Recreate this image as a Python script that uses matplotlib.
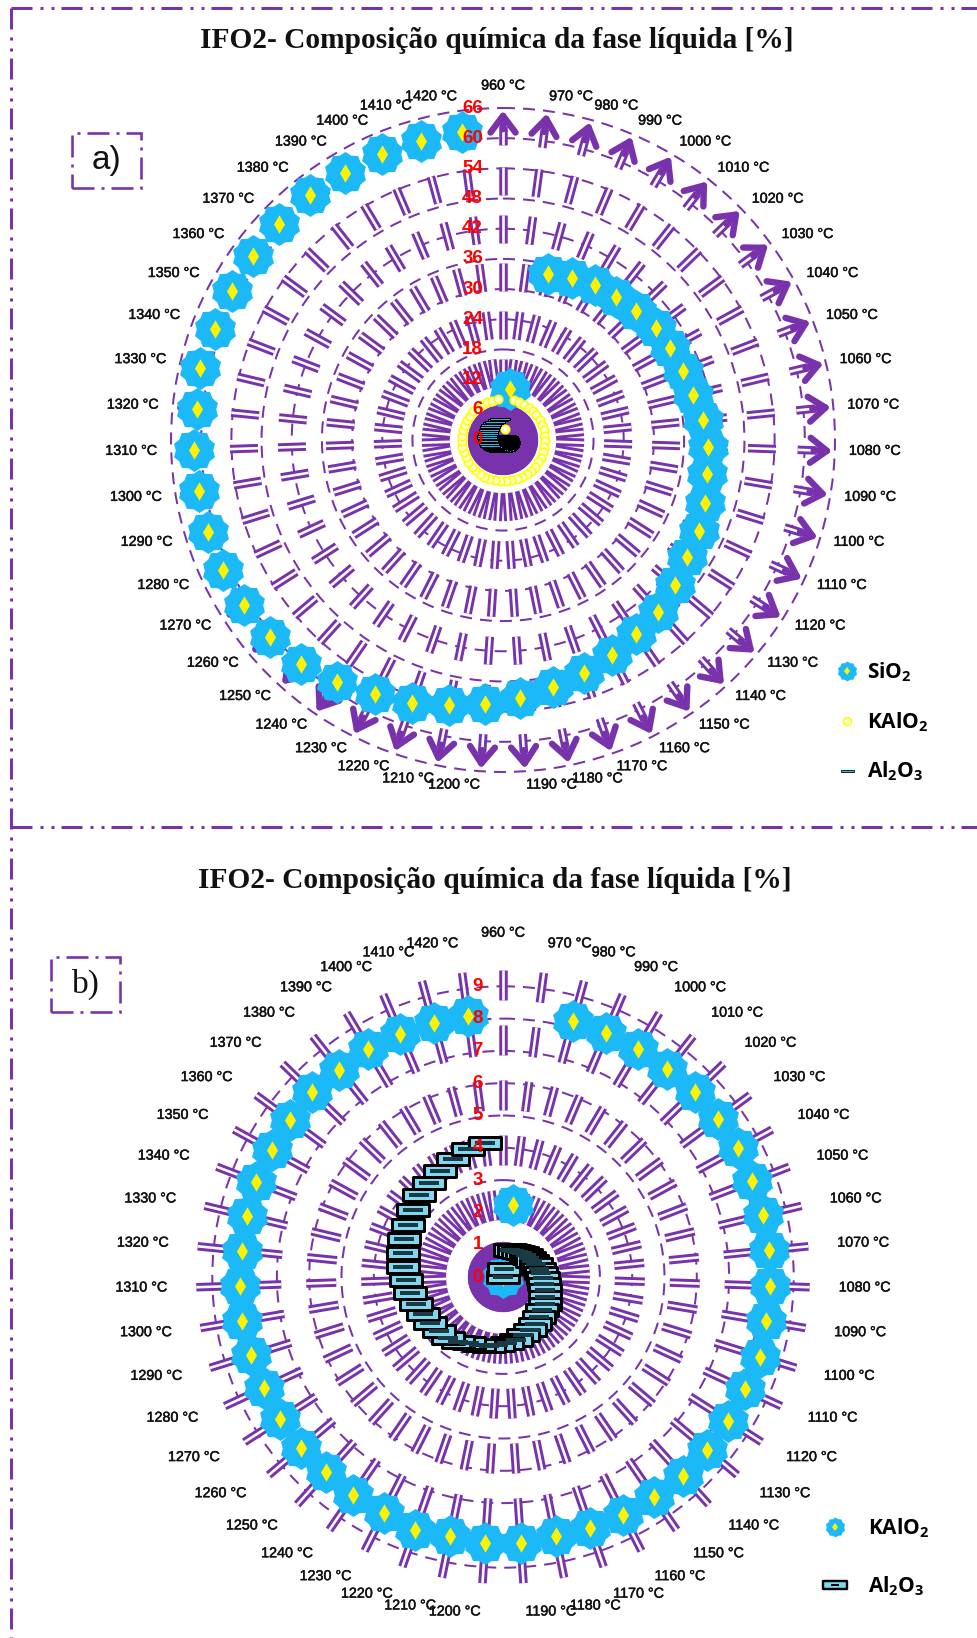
import matplotlib
matplotlib.use("Agg")
import matplotlib.patheffects as pe
import matplotlib.pyplot as plt
import numpy as np
from matplotlib.legend_handler import HandlerTuple
from matplotlib.lines import Line2D
from matplotlib.patches import Rectangle
from matplotlib.path import Path

plt.rcParams["lines.scale_dashes"] = False
plt.rcParams["font.family"] = ["Liberation Sans", "DejaVu Sans"]
plt.rcParams["mathtext.default"] = "regular"

W, H = 978, 1638
PX = 72 / 100  # points per pixel at dpi 100

temps = [f"{t} °C" for t in range(960, 1430, 10)]

# no SiO2 point shows at 960 °C in panel a
sio2 = [np.nan, 10.2, 34.2, 34.9, 35.8, 36.3, 36.9, 37.7, 37.9, 38.3, 38.8, 40.0, 40.8, 41.2, 42.0, 43.0,
        43.4, 44.7, 46.0, 46.8, 48.0, 49.0, 50.2, 51.5, 52.7, 53.7, 55.3, 56.6, 58.4, 60.0, 60.7,
        61.0, 61.3, 61.5, 61.3, 61.5, 61.2, 61.9, 61.3, 61.5, 61.7, 61.9, 62.0, 61.8, 61.7, 61.7, 61.8]

kalo2 = [0, 2.26, 8.22, 8.19, 8.19, 8.2, 8.26, 8.27, 8.28, 8.25, 8.28, 8.29, 8.26, 8.27, 8.32, 8.27,
         8.28, 8.29, 8.29, 8.26, 8.24, 8.24, 8.19, 8.24, 8.24, 8.19, 8.3, 8.2, 8.2, 8.16, 8.2,
         8.18, 8.15, 8.18, 8.18, 8.16, 8.13, 8.15, 8.18, 8.17, 8.19, 8.22, 8.18, 8.2, 8.16, 8.14, 8.16]

al2o3 = [0, 0.24, 0.87, 0.89, 0.91, 0.94, 0.97, 1.0, 1.04, 1.08, 1.13, 1.19, 1.25, 1.3, 1.37, 1.44,
         1.53, 1.6, 1.68, 1.76, 1.83, 1.91, 1.99, 2.05, 2.1, 2.17, 2.23, 2.3, 2.45, 2.54, 2.6,
         2.67, 2.74, 2.82, 2.92, 3.0, 3.1, 3.19, 3.29, 3.36, 3.48, 3.63, 3.72, 3.82, 3.97, 4.1, 4.2]

rings_a = [0, 6, 12, 18, 24, 30, 36, 42, 48, 54, 60, 66]
rings_b = [0, 1, 2, 3, 4, 5, 6, 7, 8, 9]

title = "IFO2- Composição química da fase líquida [%]"

PURPLE = "#7832AB"
BLUE = "#1BB9F7"
YELLOW = "#FFF200"
CYAN = "#7FD8EE"

FLOWER = Path.unit_regular_star(10, innerCircle=0.87)
THIN_BAR = Path([(-1, -0.13), (1, -0.13), (1, 0.13), (-1, 0.13), (-1, -0.13)], closed=True)
WIDE_BAR = Path([(-1, -0.36), (1, -0.36), (1, 0.36), (-1, 0.36), (-1, -0.36)], closed=True)
CORE_BAR = Path([(-1, -0.16), (1, -0.16), (1, 0.16), (-1, 0.16), (-1, -0.16)], closed=True)


def px(x, y):
    return x / W, 1 - y / H


def polar_axes(cx, cy, radius):
    ax = plt.gcf().add_axes([(cx - radius) / W, 1 - (cy + radius) / H, 2 * radius / W, 2 * radius / H],
                            projection="polar")
    ax.set_theta_zero_location("N")
    ax.set_theta_direction(-1)
    ax.set_facecolor("none")
    ax.spines["polar"].set_visible(False)
    return ax


def draw_grid(ax, theta, rings, rmax, scale, dash, outer, lab_r):
    ax.set_ylim(0, rmax)
    ax.set_yticks(rings)
    ax.set_yticklabels([])
    ax.set_xticks(theta)
    ax.set_xticklabels([])
    ax.tick_params(length=0)
    ax.xaxis.grid(False)
    ax.yaxis.grid(True, color=PURPLE, lw=2.0 * PX, linestyle=(0, (12 * PX, 8 * PX)), zorder=1)
    ax.set_axisbelow(True)

    on_off = (dash[0] * PX, dash[1] * PX)
    inner = 45 / scale
    disc = 35 / scale
    # two passes so a white core is never covered by the next spoke
    for t in theta:
        ax.plot([t, t], [0, disc], color=PURPLE, lw=9 * PX, solid_capstyle="butt", zorder=2)
        ax.plot([t, t], [outer, inner], color=PURPLE, lw=8.5 * PX, linestyle=(0, on_off),
                dash_capstyle="butt", zorder=2)
    for t in theta:
        ax.plot([t, t], [outer, inner], color="white", lw=2.6 * PX, linestyle=(0, on_off),
                dash_capstyle="butt", zorder=2.1)

    for t, lab in zip(theta, temps):
        s = np.sin(t)
        ha = "center" if abs(s) < 0.01 else ("left" if s > 0 else "right")
        lift = 6 if abs(s) < 0.01 else 0.5
        ax.annotate(lab, xy=(t, lab_r), xytext=(0, lift), textcoords="offset points", ha=ha, va="center",
                    fontsize=10.3, color="#111111", annotation_clip=False, zorder=8,
                    path_effects=[pe.withStroke(linewidth=0.35, foreground="#111111")])

    for v in rings:
        ax.annotate(str(v), xy=(0, v), xytext=(-20 * PX, 0), textcoords="offset points", ha="right",
                    va="center", fontsize=13.5, fontweight="bold", color="#FF0000",
                    annotation_clip=False, zorder=12)


def flowers(ax, theta, values):
    ax.scatter(theta, values, s=(43 * PX) ** 2, marker=FLOWER, color=BLUE, lw=0, zorder=5, clip_on=False)
    ax.scatter(theta, values, s=(13 * PX) ** 2, marker="d", color=YELLOW, lw=0, zorder=5.1, clip_on=False)


def flower_handle():
    return (Line2D([], [], ls="none", marker=FLOWER, ms=20 * PX, color=BLUE, mew=0),
            Line2D([], [], ls="none", marker="d", ms=6 * PX, color=YELLOW, mew=0))


def legend(ax, handles, labels, x, y, spacing, pad):
    ax.legend(handles, labels, loc="center left", bbox_to_anchor=px(x, y), bbox_transform=plt.gcf().transFigure,
              frameon=False, labelspacing=spacing, handletextpad=pad, handlelength=1.6, borderpad=0,
              handler_map={tuple: HandlerTuple(ndivide=1)},
              prop={"family": ["Open Sans", "DejaVu Sans"], "weight": "bold", "size": 15})


def frame_line(fig, x0, y0, x1, y1):
    xa, ya = px(x0, y0)
    xb, yb = px(x1, y1)
    pattern = tuple(v * PX for v in (21, 8, 3, 8, 3, 7))
    fig.add_artist(Line2D([xa, xb], [ya, yb], color=PURPLE, lw=3 * PX, linestyle=(0, pattern),
                          dash_capstyle="butt", transform=fig.transFigure))


def tag_box(fig, x0, y0, x1, y1, text, family):
    xa, ya = px(x0, y1)
    xb, yb = px(x1, y0)
    fig.add_artist(Rectangle((xa, ya), xb - xa, yb - ya, fill=False, ec=PURPLE, lw=2.6 * PX,
                             linestyle=(0, tuple(v * PX for v in (22, 7, 3, 7))), transform=fig.transFigure))
    xc, yc = px((x0 + x1) / 2, (y0 + y1) / 2)
    fig.text(xc, yc, text, ha="center", va="center", fontsize=24, family=family, color="#111111")


def main():
    fig = plt.figure(figsize=(W / 100, H / 100), dpi=100, facecolor="white")
    theta = np.linspace(0, 2 * np.pi, len(temps), endpoint=False)

    # --- a) ---
    ax = polar_axes(503, 440, 67 * 5.03)
    draw_grid(ax, theta, rings_a, 67, 5.03, (28, 20), 54.3, 68.8)
    for t in theta:
        ax.plot([t, t], [58.6, 62.4], color=PURPLE, lw=8.5 * PX, solid_capstyle="butt", zorder=2)
        ax.plot([t, t], [58.6, 62.4], color="white", lw=2.6 * PX, solid_capstyle="butt", zorder=2.1)
        ax.annotate("", xy=(t, 65.5), xytext=(t, 61.8), zorder=3,
                    arrowprops=dict(arrowstyle="->,head_length=0.6,head_width=0.45", color=PURPLE, lw=4.6,
                                    mutation_scale=20, shrinkA=0, shrinkB=0))
    flowers(ax, theta, sio2)
    ax.scatter(theta, kalo2, s=(8.5 * PX) ** 2, marker="o", color="#FFFFD0", edgecolors="#FFFF00",
               lw=1.6 * PX, zorder=6, clip_on=False)
    ax.scatter(theta, al2o3, s=(20 * PX) ** 2, marker=THIN_BAR, color="#2FB5E6", edgecolors="black",
               lw=1.0 * PX, zorder=7, clip_on=False)
    legend(ax,
           [flower_handle(),
            Line2D([], [], ls="none", marker="o", ms=8 * PX, mfc="#FFFFD0", mec="#FFFF00", mew=1.6 * PX),
            Line2D([], [], ls="none", marker=THIN_BAR, ms=13 * PX, mfc="#2FB5E6", mec="black", mew=0.8 * PX)],
           ["SiO$_2$", "KAlO$_2$", "Al$_2$O$_3$"], 820, 722, 1.25, 0.15)

    # --- b) ---
    ax = polar_axes(503, 1277, 9.6 * 32.3)
    draw_grid(ax, theta, rings_b, 9.6, 32.3, (30, 25), 9.5, 10.4)
    flowers(ax, theta, kalo2)
    ax.scatter(theta, al2o3, s=(32 * PX) ** 2, marker=WIDE_BAR, color=CYAN, edgecolors="black",
               lw=3 * PX, zorder=6, clip_on=False)
    ax.scatter(theta, al2o3, s=(20 * PX) ** 2, marker=CORE_BAR, color="#1A3A45", lw=0, zorder=6.1, clip_on=False)
    legend(ax,
           [flower_handle(),
            (Line2D([], [], ls="none", marker=WIDE_BAR, ms=24 * PX, mfc=CYAN, mec="black", mew=2.4 * PX),
             Line2D([], [], ls="none", marker=CORE_BAR, ms=8 * PX, color="black", mew=0))],
           ["KAlO$_2$", "Al$_2$O$_3$"], 808, 1557, 1.65, 0.77)

    # --- page furniture ---
    frame_line(fig, 11, 8, W, 8)
    frame_line(fig, 11, 8, 11, H)
    frame_line(fig, 11, 827, W, 827)
    tag_box(fig, 72, 133, 141, 188, "a)", ["Liberation Sans"])
    tag_box(fig, 51, 957, 120, 1012, "b)", ["Liberation Serif"])

    for y, x in ((41, 497), (881, 495)):
        xc, yc = px(x, y)
        fig.text(xc, yc, title, ha="center", va="center", fontsize=21.2, fontweight="bold",
                 family=["Liberation Serif"], color="#111111")

    fig.savefig("out.png", dpi=100)


if __name__ == "__main__":
    main()
